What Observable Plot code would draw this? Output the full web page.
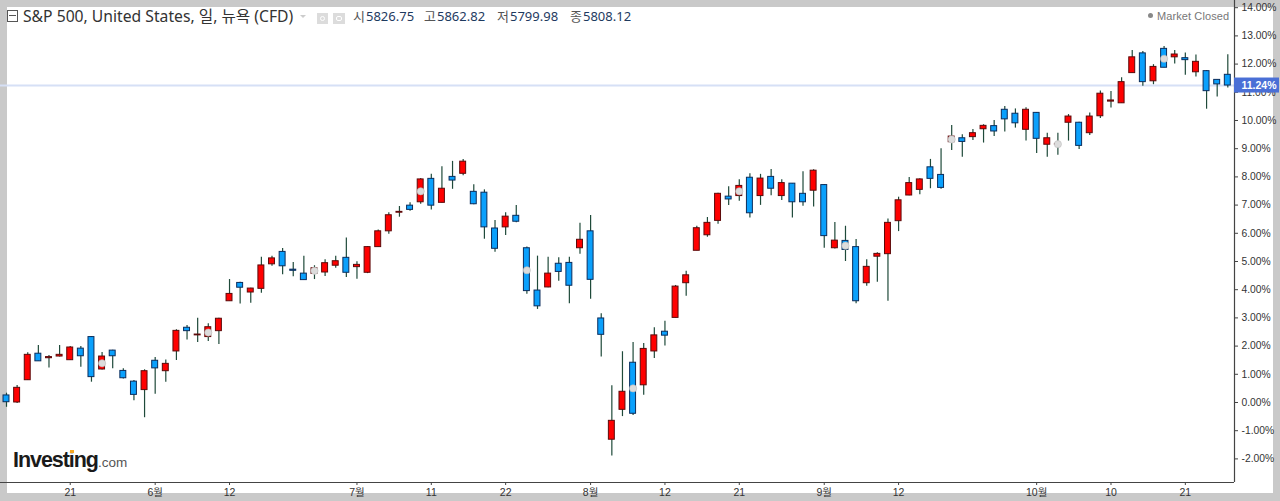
<!DOCTYPE html>
<html><head><meta charset="utf-8">
<script src="https://cdn.jsdelivr.net/npm/d3@7"></script>
<script src="https://cdn.jsdelivr.net/npm/@observablehq/plot@0.6"></script>
<style>
html,body{margin:0;padding:0;background:#c9c9c9;width:1280px;height:501px;overflow:hidden}
#paper{position:absolute;left:7px;top:7px;width:1266px;height:486px;background:#fff}
#chart{position:absolute;left:0;top:0}
#chart svg{background:transparent!important;display:block}
.ov{position:absolute;white-space:nowrap;font-family:"Noto Sans","Noto Sans CJK KR",sans-serif;line-height:1}
.ohlc span{color:#1e3a5f;margin-left:1px}
</style></head><body>
<div id="paper"></div><div id="chart"></div>
<div class="ov" style="left:7px;top:10px;width:9px;height:10px;border:1px solid #555"></div>
<div class="ov" style="left:9px;top:15px;width:7px;height:1px;background:#555"></div>
<div class="ov" id="title" style="left:23px;top:9px;font-size:15.7px;color:#333">S&amp;P 500, United States, 일, 뉴욕 (CFD)</div>
<div class="ov" style="left:300px;top:15px;width:0;height:0;border-left:3px solid transparent;border-right:3px solid transparent;border-top:3px solid #ccc"></div>
<div class="ov" style="left:317px;top:13px;width:11px;height:11px;background:#dcdcdc"></div>
<div class="ov" style="left:320px;top:16px;width:3px;height:3px;border:1px solid #fff;border-radius:50%"></div>
<div class="ov" style="left:333px;top:13px;width:12px;height:11px;background:#dcdcdc"></div>
<div class="ov" style="left:336px;top:16px;width:4px;height:3px;border:1px solid #fff;border-radius:2px"></div>
<div class="ov ohlc" style="left:353px;top:10px;font-size:13px;color:#555">시<span>5826.75</span></div>
<div class="ov ohlc" style="left:424px;top:10px;font-size:13px;color:#555">고<span>5862.82</span></div>
<div class="ov ohlc" style="left:497px;top:10px;font-size:13px;color:#555">저<span>5799.98</span></div>
<div class="ov ohlc" style="left:570px;top:10px;font-size:13px;color:#555">종<span>5808.12</span></div>
<div class="ov" style="left:1148px;top:13px;width:5px;height:5px;border-radius:50%;background:#888"></div>
<div class="ov" style="left:1157px;top:10px;font:11px 'Liberation Sans',sans-serif;letter-spacing:.1px;color:#777">Market Closed</div>
<div class="ov" style="left:13px;top:448px;font:bold 21.5px 'Liberation Sans',sans-serif;letter-spacing:-1.05px;color:#1a1a1a">Investing<span style="font:13.5px 'Liberation Sans',sans-serif;letter-spacing:0;color:#555">.com</span></div>
<div class="ov" style="left:70px;top:450px;width:4px;height:3px;background:#f5a623"></div>
<script>
const high=[0.33,0.60,1.76,2.02,1.67,2.02,1.99,1.99,2.34,1.77,1.85,1.20,0.78,1.16,1.60,1.51,2.58,2.73,2.99,2.79,2.99,4.36,4.26,4.05,5.15,5.19,5.46,4.96,5.19,4.85,
5.06,5.19,5.83,4.99,5.53,6.12,6.73,6.95,7.08,7.94,8.09,8.36,8.55,8.62,7.72,7.54,6.45,6.73,6.99,5.51,5.19,5.15,5.13,5.15,6.36,6.63,3.15,0.59,1.80,2.13,
2.09,2.65,2.88,4.15,4.65,6.25,6.56,7.42,7.65,7.90,8.11,8.09,8.26,7.90,7.77,8.18,8.25,7.73,6.38,6.25,5.78,5.06,5.31,6.51,7.28,7.98,7.93,8.62,9.00,9.82,
9.49,9.68,9.85,10.00,10.50,10.41,10.45,10.28,9.55,9.55,10.21,9.94,10.27,11.05,11.03,11.52,12.48,12.45,11.98,12.62,12.48,12.39,12.32,11.77,11.44,12.33];
const low=[-0.17,-0.04,0.78,1.46,1.22,1.61,1.50,1.25,0.72,1.15,1.20,0.83,0.06,-0.54,0.29,0.72,1.49,2.22,2.13,2.16,2.06,3.59,3.49,3.52,3.87,4.83,4.53,4.46,4.34,4.36,
4.47,4.76,4.43,4.37,4.57,5.51,5.97,6.57,6.78,7.03,6.83,7.07,7.56,8.04,7.01,5.79,5.33,5.92,6.37,3.84,3.30,4.07,4.30,3.50,5.26,3.66,1.61,-1.90,-0.50,-0.46,
0.26,1.56,2.00,3.00,3.77,5.38,5.86,6.32,6.99,7.14,6.54,6.99,7.33,7.16,6.54,6.96,6.93,5.47,5.44,5.00,3.50,4.12,4.26,3.59,6.06,7.33,7.37,7.58,7.56,8.94,
8.70,9.29,9.20,9.43,9.59,9.73,9.27,8.83,8.70,8.77,9.27,8.97,9.47,10.07,10.44,10.61,11.68,11.21,11.27,11.87,12.00,11.60,11.54,10.40,10.83,11.15];
const bodyTop=[0.25,0.52,1.69,1.73,1.61,1.69,1.95,1.91,2.32,1.63,1.84,1.12,0.74,1.11,1.48,1.37,2.54,2.65,2.41,2.67,2.97,3.85,4.24,4.04,4.86,5.11,5.34,4.71,4.57,4.76,
4.94,5.01,5.13,4.88,5.51,6.07,6.64,6.76,6.98,7.91,7.93,7.58,8.00,8.54,7.47,7.44,6.17,6.59,6.62,5.47,3.97,4.57,4.92,4.95,5.77,6.07,2.98,-0.65,0.38,1.41,
1.90,2.38,2.51,4.11,4.51,6.18,6.37,7.40,7.30,7.68,7.97,7.94,8.00,7.78,7.76,7.40,8.22,7.71,5.74,5.73,5.51,4.81,5.27,6.37,7.17,7.78,7.91,8.34,8.07,9.43,
9.37,9.55,9.81,9.80,10.38,10.24,10.38,10.27,9.37,9.17,10.14,9.92,10.14,10.95,10.71,11.36,12.24,12.38,11.90,12.54,12.34,12.21,12.08,11.75,11.44,11.62];
const bodyBottom=[0.01,0.00,0.79,1.46,1.57,1.63,1.50,1.64,0.90,1.17,1.64,0.86,0.27,0.44,1.21,1.11,1.81,2.53,2.38,2.32,2.53,3.59,4.07,3.90,4.03,4.90,4.83,4.67,4.34,4.56,
4.61,4.85,4.60,4.80,4.60,5.51,6.07,6.73,6.83,7.10,6.98,7.08,7.87,8.11,7.03,6.21,5.45,6.21,6.41,3.95,3.41,4.08,4.63,4.14,5.47,4.35,2.40,-1.32,-0.26,-0.40,
0.61,1.81,2.37,3.00,4.23,5.38,5.93,6.44,7.20,7.32,6.71,7.32,7.58,7.32,7.10,7.10,7.51,5.90,5.47,5.41,3.59,4.23,5.17,5.26,6.43,7.34,7.54,7.93,7.61,9.23,
9.24,9.41,9.69,9.61,10.04,9.90,9.67,9.35,9.14,9.14,9.92,9.10,9.55,10.15,10.67,10.61,11.68,11.36,11.39,11.87,12.24,12.14,11.71,11.04,11.28,11.24];
const direction="BRRBRRRBBRBBBRBRRBRRRRBRRRBBBR"+"RRBRRRRRBRBRBRBBBRBBBRBBRBBRRB"+"RRBRRRRRBRBRBRBBRBRBBRRRRRRBBR"+"BRRBBBRBRRRBRRRRRBRBRBRBBB";
const dotIndex=[9,19,29,39,49,59,69,79,89,99,109];
const dotValue=[1.39,2.48,4.67,7.49,4.69,0.50,7.49,5.56,9.33,9.16,12.19];
const xTickIndex=[6,14,21,33,40,47,55,62,69,77,84,97,104,111];
const xTickLabel=["21","6월","12","7월","11","22","8월","12","21","9월","12","10월","10","21"];
const yTicks=[-2,-1,0,1,2,3,4,5,6,7,8,9,10,11,12,13,14];
const lastPct=11.24;

const candles=high.map((h,i)=>({i,h,l:low[i],t:bodyTop[i],b:bodyBottom[i],up:direction[i]==="R"}));
const dots=dotIndex.map((i,k)=>({i,v:dotValue[k]}));
const xDomain=[-0.565,115.63], yDomain=[-2.837,14.255];
const labelSpan=45/10.62;
const labelFont="'Liberation Sans','Noto Sans CJK KR',sans-serif";

const chart=Plot.plot({
  width:1280,height:501,marginLeft:0,marginRight:46,marginTop:0,marginBottom:19,
  style:{background:"transparent",fontFamily:labelFont,fontSize:"10.5px",color:"#333"},
  x:{type:"linear",domain:xDomain},
  y:{domain:yDomain},
  marks:[
    Plot.ruleY([lastPct],{stroke:"#d6e0f6",strokeWidth:2}),
    Plot.ruleX(candles,{x:"i",y1:"l",y2:"h",stroke:"#1f4a3a",strokeWidth:1.2}),
    Plot.rect(candles,{x1:d=>d.i-0.28,x2:d=>d.i+0.28,y1:"b",y2:"t",
      fill:d=>d.up?"#ff0000":"#0aa0fc",stroke:d=>d.up?"#5c0a0a":"#0b2d5c",strokeWidth:1}),
    Plot.dot(dots,{x:"i",y:"v",r:3.6,fill:"#dcdcdc",stroke:"#bdbdbd",strokeWidth:.6}),
    Plot.ruleY([yDomain[0]],{stroke:"#444",strokeWidth:1.2}),
    Plot.ruleX([xDomain[1]],{stroke:"#444",strokeWidth:1.2}),
    Plot.axisX({ticks:xTickIndex,tickFormat:d=>xTickLabel[xTickIndex.indexOf(d)],tickSize:3,tickPadding:3,label:null,fontSize:10.5,stroke:"#444"}),
    Plot.axisY({anchor:"right",ticks:yTicks,tickFormat:d=>d.toFixed(2).replace("−","-")+"%",tickSize:3,tickPadding:4,label:null,fontSize:10.3,stroke:"#444"}),
    Plot.rect([lastPct],{x1:xDomain[1],x2:xDomain[1]+labelSpan,y1:d=>d-0.266,y2:d=>d+0.266,fill:"#4a6fd6"}),
    Plot.text([lastPct],{x:xDomain[1],y:d=>d,text:d=>d.toFixed(2)+"%",textAnchor:"start",dx:7,fill:"#fff",fontSize:10.5,fontWeight:600})
  ]
});
document.getElementById("chart").append(chart);
</script>
</body></html>
